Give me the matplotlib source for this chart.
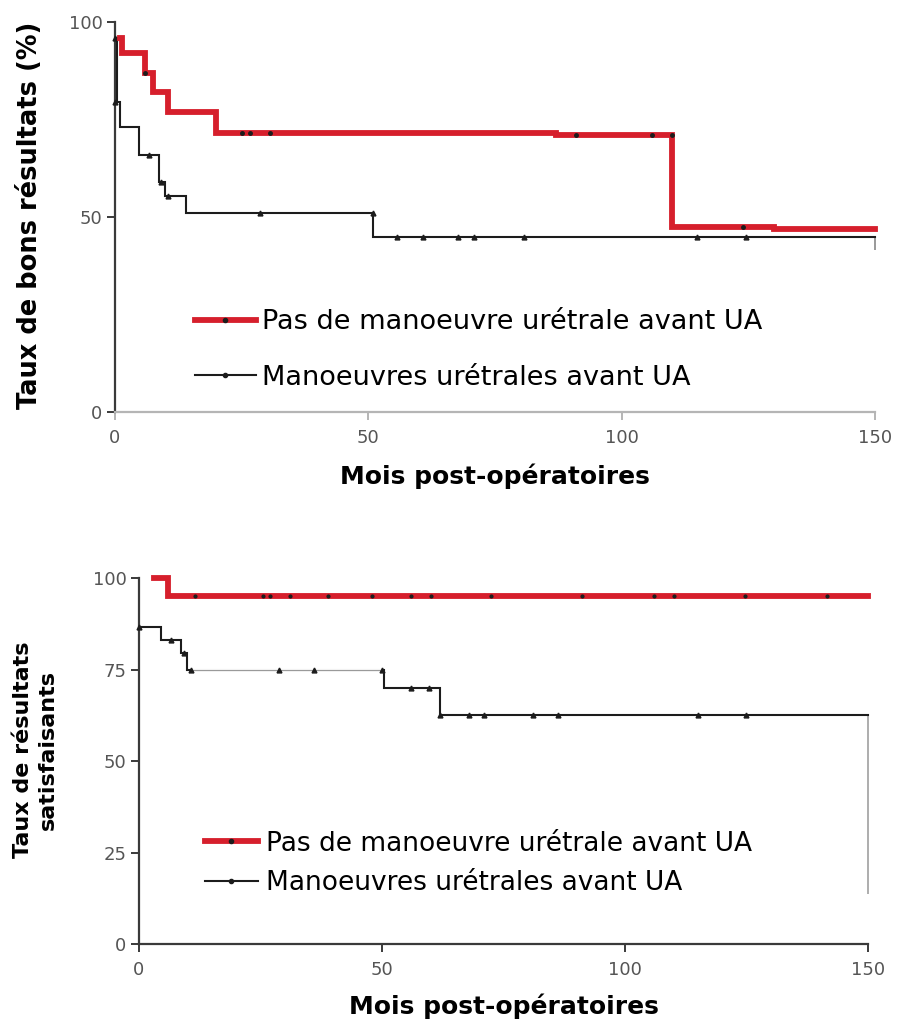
import matplotlib
matplotlib.use("Agg")
import matplotlib.pyplot as plt
from matplotlib.lines import Line2D

plt.rcParams['font.family'] = ['DejaVu Sans']

# ---- data -------------------------------------------------------------
label_red = "Pas de manoeuvre urétrale avant UA"
label_black = "Manoeuvres urétrales avant UA"
xlabel = "Mois post-opératoires"
ylabel_top = "Taux de bons résultats (%)"
ylabel_bot = "Taux de résultats\nsatisfaisants"

# Good results (top panel)
red_top_t = [1.0, 1.3, 6.0, 7.5, 10.5, 20.0, 87.0, 110.0, 130.0, 150.0]
red_top_s = [96.0, 92.0, 87.0, 82.0, 77.0, 71.5, 71.0, 47.5, 47.0, 47.0]
red_top_cens_t = [6.0, 25.0, 26.6, 30.5, 91.0, 106.0, 110.0, 124.0]
red_top_cens_s = [87.0, 71.5, 71.5, 71.5, 71.0, 71.0, 71.0, 47.5]

black_top_t = [0.0, 0.3, 1.0, 4.8, 8.7, 9.8, 14.0, 51.0, 150.0]
black_top_s = [96.0, 79.5, 73.0, 66.0, 59.0, 55.5, 51.0, 45.0, 45.0]
black_top_cens_t = [0.0, 0.0, 6.7, 9.0, 10.4, 28.6, 51.0, 55.7, 60.7, 67.7, 70.8, 80.7, 114.9, 124.6]
black_top_cens_s = [96.0, 79.5, 66.0, 59.0, 55.5, 51.0, 51.0, 45.0, 45.0, 45.0, 45.0, 45.0, 45.0, 45.0]
black_top_end = 41.5

# Satisfactory results (bottom panel)
red_bot_t = [3.0, 6.0, 150.0]
red_bot_s = [100.0, 95.0, 95.0]
red_bot_cens_t = [11.6, 25.6, 27.0, 31.0, 38.8, 48.0, 56.0, 60.0, 72.4, 91.2, 106.0, 110.0, 124.6, 141.5]
red_bot_cens_s = [95.0] * len(red_bot_cens_t)

black_bot_t = [0.0, 4.5, 8.7, 9.8, 50.5, 62.0, 150.0]
black_bot_s = [86.5, 83.0, 79.5, 75.0, 70.0, 62.7, 62.7]
black_bot_cens_t = [0.0, 6.5, 9.3, 10.7, 28.9, 36.1, 50.0, 56.0, 59.6, 62.0, 68.0, 71.0, 81.0, 86.2, 115.0, 125.0]
black_bot_cens_s = [86.5, 83.0, 79.5, 75.0, 75.0, 75.0, 75.0, 70.0, 70.0, 62.7, 62.7, 62.7, 62.7, 62.7, 62.7, 62.7]
black_bot_end = 13.7

x_ticks = [0, 50, 100, 150]
y_ticks_top = [0, 50, 100]
y_ticks_bot = [0, 25, 50, 75, 100]

RED = '#d61f2c'
BLACK = '#1c1c1c'
AXIS = '#3a3a3a'
LIGHT = '#b5b5b5'
TICKLAB = '#555555'


def style_axes(ax, yticks, xcolor):
    ax.set_xlim(0, 150)
    ax.set_ylim(0, 100)
    for side in ('top', 'right'):
        ax.spines[side].set_visible(False)
    ax.spines['left'].set_linewidth(1.6)
    ax.spines['left'].set_color(AXIS)
    ax.spines['bottom'].set_linewidth(1.6)
    ax.spines['bottom'].set_color(xcolor)
    ax.set_xticks(x_ticks)
    ax.set_yticks(yticks)
    ax.tick_params(direction='out', length=6, width=1.4, labelsize=13,
                   labelcolor=TICKLAB, pad=3)
    ax.tick_params(axis='y', color=AXIS)
    ax.tick_params(axis='x', color=xcolor, pad=6)


def draw_km(ax, t, s, cens_t, cens_s, color, lw, marker, mk_size, z):
    ax.step(t, s, where='post', color=color, lw=lw, zorder=z,
            solid_joinstyle='miter', clip_on=False)
    ax.plot(cens_t, cens_s, linestyle='none', marker=marker, ms=mk_size,
            color=BLACK, zorder=z + 1, clip_on=False)


fig = plt.figure(figsize=(8.99, 10.25), dpi=100)

# ---- top panel ----------------------------------------------------------
ax1 = fig.add_axes([0.1279, 0.5980, 0.8454, 0.3805])
style_axes(ax1, y_ticks_top, LIGHT)
draw_km(ax1, black_top_t, black_top_s, black_top_cens_t, black_top_cens_s,
        BLACK, 1.5, '^', 3.5, 3)
draw_km(ax1, red_top_t, red_top_s, red_top_cens_t, red_top_cens_s,
        RED, 4.2, 'o', 2.5, 4)
ax1.vlines(150, black_top_end, black_top_s[-1], color='#888888', lw=1.2,
           clip_on=False)
ax1.set_xlabel(xlabel, fontsize=18, fontweight='bold')
ax1.xaxis.set_label_coords(0.5, -0.131)
ax1.set_ylabel(ylabel_top, fontsize=18.5, fontweight='bold')
ax1.yaxis.set_label_coords(-0.095, 0.505)

handles = [
    Line2D([], [], color=RED, lw=4.2, marker='o', ms=3, mfc=BLACK, mec=BLACK),
    Line2D([], [], color=BLACK, lw=1.5, marker='o', ms=3, mfc=BLACK, mec=BLACK),
]
ax1.legend(handles, [label_red, label_black], loc='upper left',
           bbox_to_anchor=(0.105, 0.264), frameon=False, fontsize=19.5,
           handlelength=2.25, handletextpad=0.25, labelspacing=1.1,
           borderaxespad=0, borderpad=0)

# ---- bottom panel -------------------------------------------------------
ax2 = fig.add_axes([0.1546, 0.0790, 0.8109, 0.3570])
style_axes(ax2, y_ticks_bot, AXIS)
draw_km(ax2, black_bot_t, black_bot_s, black_bot_cens_t, black_bot_cens_s,
        BLACK, 1.5, '^', 3.5, 3)
# the long plateau after the first drops is printed as a faint hairline
ax2.hlines(black_bot_s[3], black_bot_t[3] + 1.2, black_bot_t[4] - 0.3,
           color='white', lw=2.6, zorder=3.5)
ax2.hlines(black_bot_s[3], black_bot_t[3] + 1.0, black_bot_t[4] - 0.3,
           color='#9a9a9a', lw=0.9, zorder=3.6)
draw_km(ax2, red_bot_t, red_bot_s, red_bot_cens_t, red_bot_cens_s,
        RED, 4.2, 'o', 2.0, 4)
ax2.vlines(150, black_bot_end, black_bot_s[-1], color='#a0a0a0', lw=1.2,
           clip_on=False)
ax2.set_xlabel(xlabel, fontsize=18, fontweight='bold')
ax2.xaxis.set_label_coords(0.5, -0.134)
ax2.set_ylabel(ylabel_bot, fontsize=16, fontweight='bold', linespacing=1.3)
ax2.yaxis.set_label_coords(-0.111, 0.53)
ax2.legend(handles, [label_red, label_black], loc='upper left',
           bbox_to_anchor=(0.0905, 0.31), frameon=False, fontsize=19,
           handlelength=2.0, handletextpad=0.3, labelspacing=0.5,
           borderaxespad=0, borderpad=0)

fig.savefig('out.png', dpi=100, facecolor='white')
